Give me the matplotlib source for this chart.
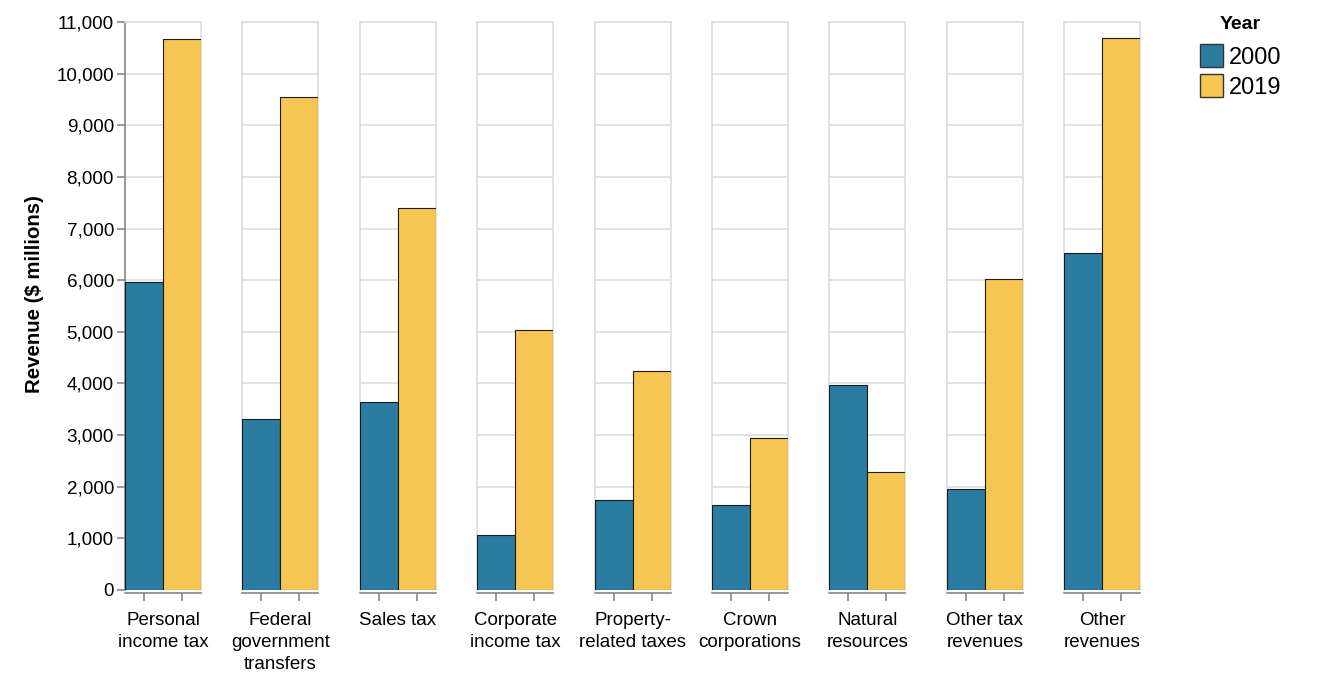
import matplotlib
matplotlib.use('Agg')
import matplotlib.pyplot as plt
from matplotlib.patches import Rectangle
from matplotlib.ticker import FuncFormatter, MultipleLocator

plt.rcParams['font.family'] = ['Liberation Sans', 'DejaVu Sans']

# data
categories = ['Personal\nincome tax', 'Federal\ngovernment\ntransfers', 'Sales tax',
              'Corporate\nincome tax', 'Property-\nrelated taxes', 'Crown\ncorporations',
              'Natural\nresources', 'Other tax\nrevenues', 'Other\nrevenues']
years = ['2000', '2019']
rev_2000 = [5970, 3305, 3640, 1070, 1737, 1642, 3975, 1965, 6530]
rev_2019 = [10680, 9555, 7390, 5032, 4238, 2935, 2285, 6023, 10690]
colors = ['#2a7ca0', '#f7c652']

W, H = 1319, 673
fig = plt.figure(figsize=(W / 100, H / 100), dpi=100)

# facet layout in pixels
left0, step, cell_w = 125, 117.4, 76
top, bottom = 22, 590

for i, cat in enumerate(categories):
    x0 = left0 + i * step
    ax = fig.add_axes([x0 / W, (H - bottom) / H, cell_w / W, (bottom - top) / H])
    vals = [rev_2000[i], rev_2019[i]]
    ax.bar(range(len(years)), vals, width=1.0, color=colors,
           edgecolor='#1a1a1a', linewidth=0.8, zorder=3)
    ax.set_xlim(-0.5, 1.5)
    ax.set_ylim(0, 11000)
    ax.yaxis.set_major_locator(MultipleLocator(1000))
    ax.grid(axis='y', color='#dddddd', linewidth=1.2, zorder=0)
    ax.set_axisbelow(True)
    for s in ['top', 'right', 'left']:
        ax.spines[s].set_color('#dddddd')
        ax.spines[s].set_linewidth(1.2)
    ax.spines['bottom'].set_color('#888888')
    ax.spines['bottom'].set_linewidth(1.2)
    ax.spines['bottom'].set_position(('outward', 2))

    ax.set_xticks(range(len(years)))
    ax.set_xticklabels([])
    ax.tick_params(axis='x', length=6, width=1.2, color='#888888')

    if i == 0:
        ax.spines['left'].set_color('#888888')
        ax.yaxis.set_major_formatter(FuncFormatter(lambda v, p: f'{int(v):,}'))
        ax.tick_params(axis='y', length=6, width=1.2, color='#888888',
                       labelsize=13.6, pad=2, labelcolor='#000000')
    else:
        ax.tick_params(axis='y', length=0, labelleft=False)

    # facet header below the cell
    cx = (x0 + cell_w / 2) / W
    for j, line in enumerate(cat.split('\n')):
        fig.text(cx, 1 - (625 + j * 22) / H, line, ha='center', va='baseline',
                 fontsize=13.5, color='#000000')

fig.text(35 / W, 1 - 294 / H, 'Revenue ($ millions)', rotation=90, ha='center',
         va='center', fontsize=14.7, fontweight='bold')

# legend
fig.text(1240 / W, 1 - 29 / H, 'Year', ha='center', va='baseline',
         fontsize=14, fontweight='bold')
for k, (yr, c) in enumerate(zip(years, colors)):
    y_top = 43.5 + k * 30
    fig.add_artist(Rectangle((1200 / W, 1 - (y_top + 23) / H), 23 / W, 23 / H,
                             transform=fig.transFigure, facecolor=c,
                             edgecolor='#333333', linewidth=1))
    fig.text(1229 / W, 1 - (y_top + 20) / H, yr, ha='left', va='baseline',
             fontsize=17)

fig.savefig('out.png', dpi=100)
